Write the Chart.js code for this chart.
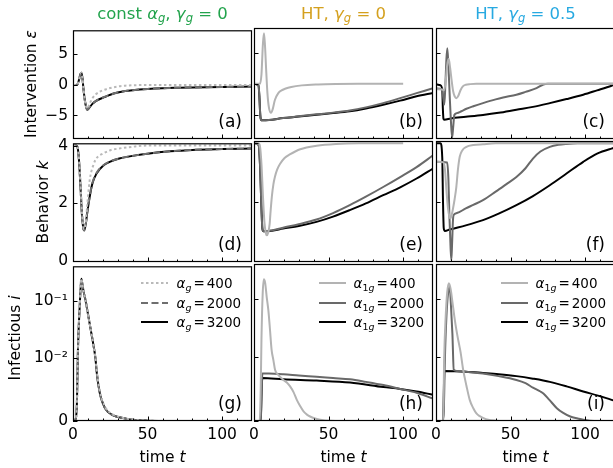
<!DOCTYPE html>
<html><head><meta charset="utf-8">
<script src="https://cdn.jsdelivr.net/npm/chart.js@4.4.1/dist/chart.umd.min.js"></script>
<style>
html,body{margin:0;padding:0;background:#fff;overflow:hidden;width:613px;height:468px;}
body{position:relative;font-family:'DejaVu Sans',sans-serif;color:#000;}
canvas{position:absolute;}
.t{position:absolute;white-space:nowrap;line-height:1.2;}
.t i{font-style:italic;}
.t sub{font-size:70%;vertical-align:-0.28em;line-height:0;}
.lg{position:absolute;white-space:nowrap;font-size:13.5px;height:16px;line-height:16px;}
.lg svg{position:absolute;left:0;top:0;}
.eq{margin:0 0.15em;}
</style></head><body>
<script>
// ---------------- data ----------------
const xTicks = [0, 50, 100];
const xMinorTicks = [10, 20, 30, 40, 60, 70, 80, 90, 110];
const epsTicks = [-5, 0, 5];
const kTicks = [0, 2, 4];
const iTicks = [0, 0.01, 0.1];
const iTickLabels = ['0', '10\u207B\u00B2', '10\u207B\u00B9'];
const alphaValues = ['400', '2000', '3200'];

// (a) intervention, const alpha_g
const tA = [0, 2, 3, 4, 5, 5.6, 6.3, 7, 8, 9, 9.7, 11, 13, 15, 18, 21, 25, 30, 35, 40, 50, 60, 70, 80, 100, 120];
const epsA400  = [0, 0, 0.1, 0.8, 1.8, 2.0, 1.2, -0.6, -2.6, -3.7, -3.85, -3.15, -2.2, -1.6, -1.1, -0.8, -0.5, -0.25, -0.12, -0.05, 0, 0, 0, 0, 0, 0];
const epsA2000 = [0, 0, 0.1, 0.8, 1.8, 2.0, 1.2, -0.6, -2.6, -3.8, -4.05, -3.68, -3.08, -2.68, -2.28, -1.98, -1.6, -1.25, -1.0, -0.86, -0.66, -0.53, -0.46, -0.41, -0.33, -0.28];
const epsA3200 = [0, 0, 0.1, 0.8, 1.8, 2.0, 1.2, -0.6, -2.6, -3.8, -4.05, -3.7, -3.1, -2.7, -2.3, -2.0, -1.6, -1.25, -1.0, -0.85, -0.65, -0.52, -0.45, -0.4, -0.32, -0.27];

// (d) behavior, const alpha_g
const tD400 = [0, 2, 3, 4, 5, 6, 7, 7.5, 8.5, 9, 10, 11.2, 12.3, 13.5, 15, 17, 20, 25, 31, 40, 50, 120];
const kD400 = [4, 4, 3.95, 3.55, 2.7, 1.7, 1.15, 1.1, 1.3, 1.6, 2.2, 2.8, 3.1, 3.3, 3.5, 3.63, 3.72, 3.84, 3.9, 3.96, 4.0, 4.0];
const tD = [0, 2, 3, 4, 5, 6, 7, 7.5, 8.5, 9.5, 11.2, 13, 15.7, 20, 25, 31, 42, 50, 65, 80, 100, 120];
const kD2000 = [4, 4, 3.95, 3.5, 2.6, 1.6, 1.1, 1.05, 1.25, 1.65, 2.24, 2.7, 3.04, 3.3, 3.45, 3.55, 3.66, 3.72, 3.8, 3.85, 3.88, 3.9];
const kD3200 = [4, 4, 3.95, 3.5, 2.6, 1.6, 1.1, 1.05, 1.25, 1.65, 2.22, 2.68, 3.02, 3.29, 3.44, 3.55, 3.66, 3.72, 3.8, 3.85, 3.88, 3.9];

// (b) intervention, HT gamma_g = 0
const tB400 = [0, 4, 5, 6, 6.7, 7.4, 8.2, 9, 10, 11.4, 12.5, 14, 16.3, 18.5, 20.8, 25, 32, 43, 55, 70, 100];
const epsB400 = [0, 0, 1.5, 6.5, 8.1, 6, 2, -1.5, -3.8, -4.65, -4.1, -2.6, -1.5, -1.05, -0.8, -0.5, -0.25, -0.1, -0.03, 0, 0];
const tB = [0, 3, 3.6, 4.2, 4.8, 6, 10, 19.5, 30, 41.9, 53, 64.2, 75, 86.6, 98, 109, 120];
const epsB2000 = [0, -0.3, -2, -5, -5.85, -5.85, -5.8, -5.5, -5.22, -4.9, -4.62, -4.28, -3.78, -3.1, -2.3, -1.5, -0.7];
const epsB3200 = [0, -0.3, -2, -5, -5.85, -5.85, -5.8, -5.5, -5.25, -4.95, -4.7, -4.4, -3.95, -3.35, -2.7, -2.0, -1.45];

// (e) behavior, HT gamma_g = 0
const tE400 = [0, 3, 4, 5, 6, 7, 8, 8.5, 9.5, 10.5, 11, 12, 13, 14, 15.5, 17.5, 20.5, 24, 31, 42, 55, 70, 100];
const kE400 = [4, 4, 3.9, 3.3, 2.2, 1.3, 0.92, 0.86, 0.95, 1.25, 1.6, 2.2, 2.6, 2.85, 3.1, 3.3, 3.5, 3.62, 3.8, 3.92, 3.98, 4.0, 4.0];
const tE = [0, 3, 4, 5, 5.6, 6.3, 8, 12, 19.5, 30, 41.9, 53, 64.2, 75, 86.6, 98, 109, 120];
const kE2000 = [4, 3.95, 3.3, 1.8, 1.1, 1.0, 1.0, 1.03, 1.12, 1.24, 1.40, 1.62, 1.89, 2.18, 2.51, 2.85, 3.19, 3.59];
const kE3200 = [4, 3.95, 3.3, 1.8, 1.1, 1.0, 1.0, 1.02, 1.09, 1.18, 1.32, 1.5, 1.72, 1.95, 2.23, 2.5, 2.8, 3.14];

// (c) intervention, HT gamma_g = 0.5
const tC400 = [0, 4, 5.5, 6.5, 7.5, 8.5, 9.5, 10.5, 11.5, 12.5, 13.7, 15, 16.5, 18, 20, 23, 27, 120];
const epsC400 = [-0.85, -0.9, -1.0, 0.5, 3, 4.0, 2.5, 0.5, -1.2, -2.0, -2.3, -1.9, -1.0, -0.4, -0.15, -0.05, 0, 0];
const tC2000 = [0, 4, 5, 5.6, 6.3, 7, 7.6, 8.3, 9.2, 10, 10.8, 11.5, 12.3, 14, 17, 20.4, 25, 31.5, 40, 45, 53.9, 60, 67.4, 72, 75, 120];
const epsC2000 = [-0.75, -0.9, -2.5, -3.3, 0, 4, 5.7, 3, -2, -6, -8.6, -7, -5.0, -4.7, -4.4, -4.0, -3.6, -3.1, -2.5, -2.2, -1.75, -1.3, -0.7, -0.1, 0, 0];
const tC3200 = [0, 3, 4.2, 4.6, 5, 5.5, 10, 20, 31.5, 42, 53.9, 65, 76.3, 87.5, 98.7, 108, 117.7, 120];
const epsC3200 = [-0.05, -0.25, -1, -4, -5.6, -5.75, -5.55, -5.3, -5.0, -4.65, -4.15, -3.7, -3.1, -2.45, -1.75, -1.05, -0.3, -0.1];

// (f) behavior, HT gamma_g = 0.5
const tF400 = [0, 5, 6, 7, 8, 9, 9.6, 10.5, 11.5, 12.5, 13.6, 14.7, 15.9, 17.5, 20.4, 25, 31.5, 40, 120];
const kF400 = [3.37, 3.35, 3.1, 2.4, 1.8, 1.5, 1.44, 1.55, 1.8, 2.1, 2.5, 3.1, 3.54, 3.75, 3.88, 3.94, 3.97, 4.0, 4.0];
const tF2000 = [0, 7.5, 8.3, 9, 9.8, 10.3, 10.8, 11.4, 11.8, 14, 20, 25, 31.5, 40, 47, 53.9, 60, 65, 70, 76.3, 82, 87.5, 95, 120];
const kF2000 = [3.37, 3.35, 2.8, 1.5, 0.4, 0.02, 0.6, 1.4, 1.55, 1.62, 1.78, 1.9, 2.06, 2.35, 2.6, 2.85, 3.15, 3.48, 3.72, 3.88, 3.95, 3.98, 4.0, 4.0];
const tF3200 = [0, 3, 4.2, 4.7, 5.2, 6, 9.2, 20, 31.5, 42, 53.9, 65, 76.3, 87.5, 98.7, 108, 117.7, 120];
const kF3200 = [4, 4, 3.5, 2.0, 1.1, 1.01, 1.06, 1.2, 1.38, 1.6, 1.89, 2.2, 2.57, 2.97, 3.37, 3.65, 3.82, 3.85];

// (g) infectious, const alpha_g
const tG = [0, 1.5, 2.5, 3.4, 4.5, 5.6, 6.5, 7.5, 8.5, 10, 12, 13.5, 15, 16, 17.9, 20, 22.4, 26, 29, 35, 40, 50, 60, 120];
const iG400  = [0, 0.0002, 0.002, 0.0166, 0.08, 0.245, 0.18, 0.13, 0.1, 0.06, 0.03, 0.018, 0.01, 0.0078, 0.0048, 0.003, 0.0019, 0.0011, 0.0008, 0.0004, 0.0002, 0.00005, 0, 0];
const iG2000 = [0, 0.0002, 0.002, 0.0166, 0.08, 0.245, 0.18, 0.13, 0.1, 0.06, 0.03, 0.018, 0.01, 0.0075, 0.0045, 0.0028, 0.0017, 0.001, 0.0007, 0.0004, 0.0002, 0.00005, 0, 0];
const iG3200 = [0, 0.0002, 0.002, 0.0166, 0.08, 0.245, 0.18, 0.13, 0.1, 0.06, 0.03, 0.018, 0.01, 0.0075, 0.0045, 0.0028, 0.0017, 0.001, 0.0007, 0.0004, 0.0002, 0.00005, 0, 0];

// (h) infectious, HT gamma_g = 0
const tH400 = [0, 3.8, 4.5, 5, 5.8, 6.6, 7.5, 8.5, 9.6, 10.5, 11.8, 13, 14.1, 16.3, 19.7, 22, 24.2, 26.5, 28.7, 31, 33.2, 35.5, 37.6, 41, 44.4, 51, 60, 100];
const iH400 = [0, 0, 0.005, 0.02, 0.12, 0.221, 0.19, 0.11, 0.065, 0.035, 0.0132, 0.0095, 0.008, 0.0072, 0.0064, 0.006, 0.0054, 0.0045, 0.0033, 0.0023, 0.0015, 0.001, 0.0007, 0.0004, 0.0002, 0.00003, 0, 0];
const tH2000 = [0, 4.5, 5, 5.6, 10, 19.7, 30, 42, 53, 64.4, 75, 86.8, 98, 109, 120];
const iH2000 = [0, 0, 0.003, 0.0074, 0.0074, 0.0073, 0.0071, 0.0069, 0.0067, 0.0065, 0.0061, 0.0056, 0.005, 0.0044, 0.0035];
const tH3200 = [0, 4.5, 5, 5.6, 19.7, 42, 64.4, 86.8, 98, 109, 120];
const iH3200 = [0, 0, 0.004, 0.0067, 0.0065, 0.0063, 0.006, 0.0053, 0.005, 0.0046, 0.0041];

// (i) infectious, HT gamma_g = 0.5
const tI400 = [0, 4.8, 5.5, 6.5, 7.5, 8.6, 9.8, 11, 12.3, 13.7, 15, 16.5, 18.2, 20.4, 22.6, 25, 27.1, 29, 31.5, 35, 40, 45, 120];
const iI400 = [0, 0, 0.01, 0.05, 0.13, 0.188, 0.15, 0.09, 0.05, 0.029, 0.019, 0.012, 0.008, 0.0055, 0.0033, 0.002, 0.0012, 0.0008, 0.0005, 0.0002, 0.00005, 0, 0];
const tI2000 = [0, 5, 6, 7, 8, 9.2, 10, 11, 11.9, 14, 20, 31.5, 42, 53.9, 60, 65, 70, 72, 76, 81, 85, 90, 95, 98.7, 103, 110, 120];
const iI2000 = [0, 0, 0.01, 0.05, 0.12, 0.165, 0.08, 0.025, 0.008, 0.0078, 0.0077, 0.0074, 0.007, 0.0064, 0.0059, 0.0052, 0.0046, 0.0043, 0.0033, 0.002, 0.0013, 0.0007, 0.0004, 0.0002, 0.00005, 0, 0];
const tI3200 = [0, 4.8, 5.2, 5.6, 20, 31.5, 42, 53.9, 65, 76.3, 87.5, 98.7, 108, 117.7, 120];
const iI3200 = [0, 0, 0.004, 0.0078, 0.0077, 0.0075, 0.0073, 0.007, 0.0066, 0.0061, 0.0054, 0.0046, 0.004, 0.0033, 0.0031];

// ---------------- layout ----------------
const L = 50, T = 12, R = 12, B = 34;
const COLX = [73, 254, 436];
const PW = 179;
const ROWT = [28, 141, 264];
const ROWH = [111, 121, 157];
const FONT = "'DejaVu Sans', sans-serif";

// symlog scale (linthresh 0.01, linscale 1)
const LT = 0.01, LSA = 1 / (1 - 0.1);
function symT(v) { const a = Math.abs(v), s = v < 0 ? -1 : 1; return a < LT ? v / LT * LSA : s * (LSA + Math.log10(a / LT)); }
function symInv(u) { const a = Math.abs(u), s = u < 0 ? -1 : 1; return a < LSA ? u / LSA * LT : s * LT * Math.pow(10, a - LSA); }
class SymlogScale extends Chart.LinearScale {
  determineDataLimits() { this.min = this.options.min; this.max = this.options.max; }
  configure() { super.configure(); this._u0 = symT(this.min); this._u1 = symT(this.max); }
  getPixelForValue(v) { return this.getPixelForDecimal((symT(v) - this._u0) / (this._u1 - this._u0)); }
  getValueForPixel(p) { return symInv(this._u0 + this.getDecimalForPixel(p) * (this._u1 - this._u0)); }
}
SymlogScale.id = 'symlog';
SymlogScale.defaults = Chart.LinearScale.defaults;
Chart.register(SymlogScale);

const framePlugin = {
  id: 'frame',
  afterDraw(chart) {
    const { ctx, chartArea: a, scales } = chart;
    ctx.save();
    ctx.strokeStyle = '#000';
    ctx.lineWidth = 1;
    ctx.beginPath();
    scales.x.ticks.forEach(t => { const x = Math.round(scales.x.getPixelForValue(t.value)) + 0.5; ctx.moveTo(x, a.bottom); ctx.lineTo(x, a.bottom - 4.5); });
    xMinorTicks.forEach(v => { const x = Math.round(scales.x.getPixelForValue(v)) + 0.5; ctx.moveTo(x, a.bottom); ctx.lineTo(x, a.bottom - 2.5); });
    scales.y.ticks.forEach(t => { const y = Math.round(scales.y.getPixelForValue(t.value)) + 0.5; ctx.moveTo(a.left, y); ctx.lineTo(a.left + 4.5, y); });
    ctx.stroke();
    ctx.lineWidth = 1.2;
    ctx.strokeRect(a.left + 0.5, a.top + 0.5, a.right - a.left - 1, a.bottom - a.top - 1);
    ctx.restore();
  }
};

const styleConst = [
  { color: '#b9b9b9', dash: [2.5, 2.5] },
  { color: '#6e6e6e', dash: [7, 3.5] },
  { color: '#000000', dash: [] }
];
const styleHT = [
  { color: '#b3b3b3', dash: [] },
  { color: '#696969', dash: [] },
  { color: '#000000', dash: [] }
];

const panels = [
  { r: 0, c: 0, s: [[tA, epsA400], [tA, epsA2000], [tA, epsA3200]] },
  { r: 0, c: 1, s: [[tB400, epsB400], [tB, epsB2000], [tB, epsB3200]] },
  { r: 0, c: 2, s: [[tC400, epsC400], [tC2000, epsC2000], [tC3200, epsC3200]] },
  { r: 1, c: 0, s: [[tD400, kD400], [tD, kD2000], [tD, kD3200]] },
  { r: 1, c: 1, s: [[tE400, kE400], [tE, kE2000], [tE, kE3200]] },
  { r: 1, c: 2, s: [[tF400, kF400], [tF2000, kF2000], [tF3200, kF3200]] },
  { r: 2, c: 0, s: [[tG, iG400], [tG, iG2000], [tG, iG3200]] },
  { r: 2, c: 1, s: [[tH400, iH400], [tH2000, iH2000], [tH3200, iH3200]] },
  { r: 2, c: 2, s: [[tI400, iI400], [tI2000, iI2000], [tI3200, iI3200]] }
];
const yConf = [
  { type: 'linear', min: -8.85, max: 8.95, ticks: epsTicks, label: v => (v < 0 ? '\u2212' + Math.abs(v) : String(v)) },
  { type: 'linear', min: -0.05, max: 4.08, ticks: kTicks, label: v => String(v) },
  { type: 'symlog', min: 0, max: 0.407, ticks: iTicks, label: v => iTickLabels[iTicks.indexOf(v)] }
];

panels.forEach(p => {
  const cv = document.createElement('canvas');
  const W = L + PW + R, H = T + ROWH[p.r] + B;
  cv.width = W; cv.height = H;
  cv.style.width = W + 'px'; cv.style.height = H + 'px';
  cv.style.left = (COLX[p.c] - L) + 'px';
  cv.style.top = (ROWT[p.r] - T) + 'px';
  document.body.appendChild(cv);
  const styles = p.c === 0 ? styleConst : styleHT;
  const yc = yConf[p.r];
  new Chart(cv, {
    type: 'line',
    data: {
      datasets: p.s.map((s, j) => ({
        label: alphaValues[j],
        data: s[0].map((x, k) => ({ x: x, y: s[1][k] })),
        borderColor: styles[j].color,
        borderDash: styles[j].dash,
        borderWidth: 2,
        pointRadius: 0,
        fill: false,
        cubicInterpolationMode: 'monotone',
        borderCapStyle: 'butt',
        borderJoinStyle: 'round'
      }))
    },
    options: {
      responsive: false, animation: false, events: [], devicePixelRatio: 1,
      layout: { padding: { left: 0, top: T, right: R, bottom: 0 } },
      plugins: { legend: { display: false }, tooltip: { enabled: false } },
      scales: {
        x: {
          type: 'linear', min: 0, max: 120, bounds: 'data',
          afterFit: s => { s.height = B; },
          afterBuildTicks: s => { s.ticks = xTicks.map(v => ({ value: v })); },
          ticks: { display: p.r === 2, color: '#000', font: { family: FONT, size: 15.5 }, padding: 5, maxRotation: 0, autoSkip: false, callback: v => String(v) },
          grid: { display: false, drawTicks: false },
          border: { display: false }
        },
        y: {
          type: yc.type, min: yc.min, max: yc.max, bounds: 'data',
          afterFit: s => { s.width = L; },
          afterBuildTicks: s => { s.ticks = yc.ticks.map(v => ({ value: v })); },
          ticks: { display: p.c === 0, color: '#000', font: { family: FONT, size: 15.5 }, padding: 5, autoSkip: false, callback: v => yc.label(v) },
          grid: { display: false, drawTicks: false },
          border: { display: false }
        }
      }
    },
    plugins: [framePlugin]
  });
});

// ---------------- text ----------------
function addText(html, x, y, size, opts) {
  const d = document.createElement('div');
  d.className = 't';
  d.innerHTML = html;
  d.style.fontSize = size + 'px';
  d.style.left = x + 'px';
  d.style.top = y + 'px';
  d.style.transform = opts.tr || 'translate(-50%,-50%)';
  if (opts.color) d.style.color = opts.color;
  document.body.appendChild(d);
  return d;
}
const colC = COLX.map(x => x + PW / 2);
addText('const <i>α<sub>g</sub></i>, <i>γ<sub>g</sub></i> = 0', colC[0], 13.5, 16.5, { color: '#22a34c' });
addText('HT, <i>γ<sub>g</sub></i> = 0', colC[1], 13.5, 16.5, { color: '#d4a01e' });
addText('HT, <i>γ<sub>g</sub></i> = 0.5', colC[2], 13.5, 16.5, { color: '#27a9e1' });

addText('Intervention <i>ε</i>', 31, 84, 15.5, { tr: 'translate(-50%,-50%) rotate(-90deg)' });
addText('Behavior <i>k</i>', 43, 202, 15.5, { tr: 'translate(-50%,-50%) rotate(-90deg)' });
addText('Infectious <i>i</i>', 15, 338, 15.5, { tr: 'translate(-50%,-50%) rotate(-90deg)' });

colC.forEach(x => addText('time <i>t</i>', x, 457, 15.5, {}));

const letters = [['(a)', '(b)', '(c)'], ['(d)', '(e)', '(f)'], ['(g)', '(h)', '(i)']];
letters.forEach((row, r) => row.forEach((s, c) => {
  const d = addText(s, COLX[c] + PW - 10, ROWT[r] + ROWH[r] - 25.6, 17, { tr: 'translateX(-100%)' });
  d.style.lineHeight = '17px';
}));

// legends
const legendRowsY = [283, 302.5, 322];
function addLegend(c, styles, labelFn, sampleOff, textOff) {
  legendRowsY.forEach((y, j) => {
    const d = document.createElement('div');
    d.className = 'lg';
    d.style.left = (COLX[c] + sampleOff) + 'px';
    d.style.top = (y - 8) + 'px';
    const dash = styles[j].dash.length ? `stroke-dasharray="${styles[j].dash.join(',')}"` : '';
    d.innerHTML = `<svg width="28" height="16"><line x1="0" y1="8" x2="27" y2="8" stroke="${styles[j].color}" stroke-width="2" ${dash}/></svg>` +
      `<span class="t" style="position:absolute;left:${textOff - sampleOff}px;top:0;line-height:16px;">${labelFn(alphaValues[j])}</span>`;
    document.body.appendChild(d);
  });
}
addLegend(0, styleConst, v => `<i>α<sub>g</sub></i><span class="eq">=</span>${v}`, 68, 103.5);
addLegend(1, styleHT, v => `<i>α</i><sub>1<i>g</i></sub><span class="eq">=</span>${v}`, 64.5, 99.5);
addLegend(2, styleHT, v => `<i>α</i><sub>1<i>g</i></sub><span class="eq">=</span>${v}`, 64.5, 99.5);
</script>
</body></html>
